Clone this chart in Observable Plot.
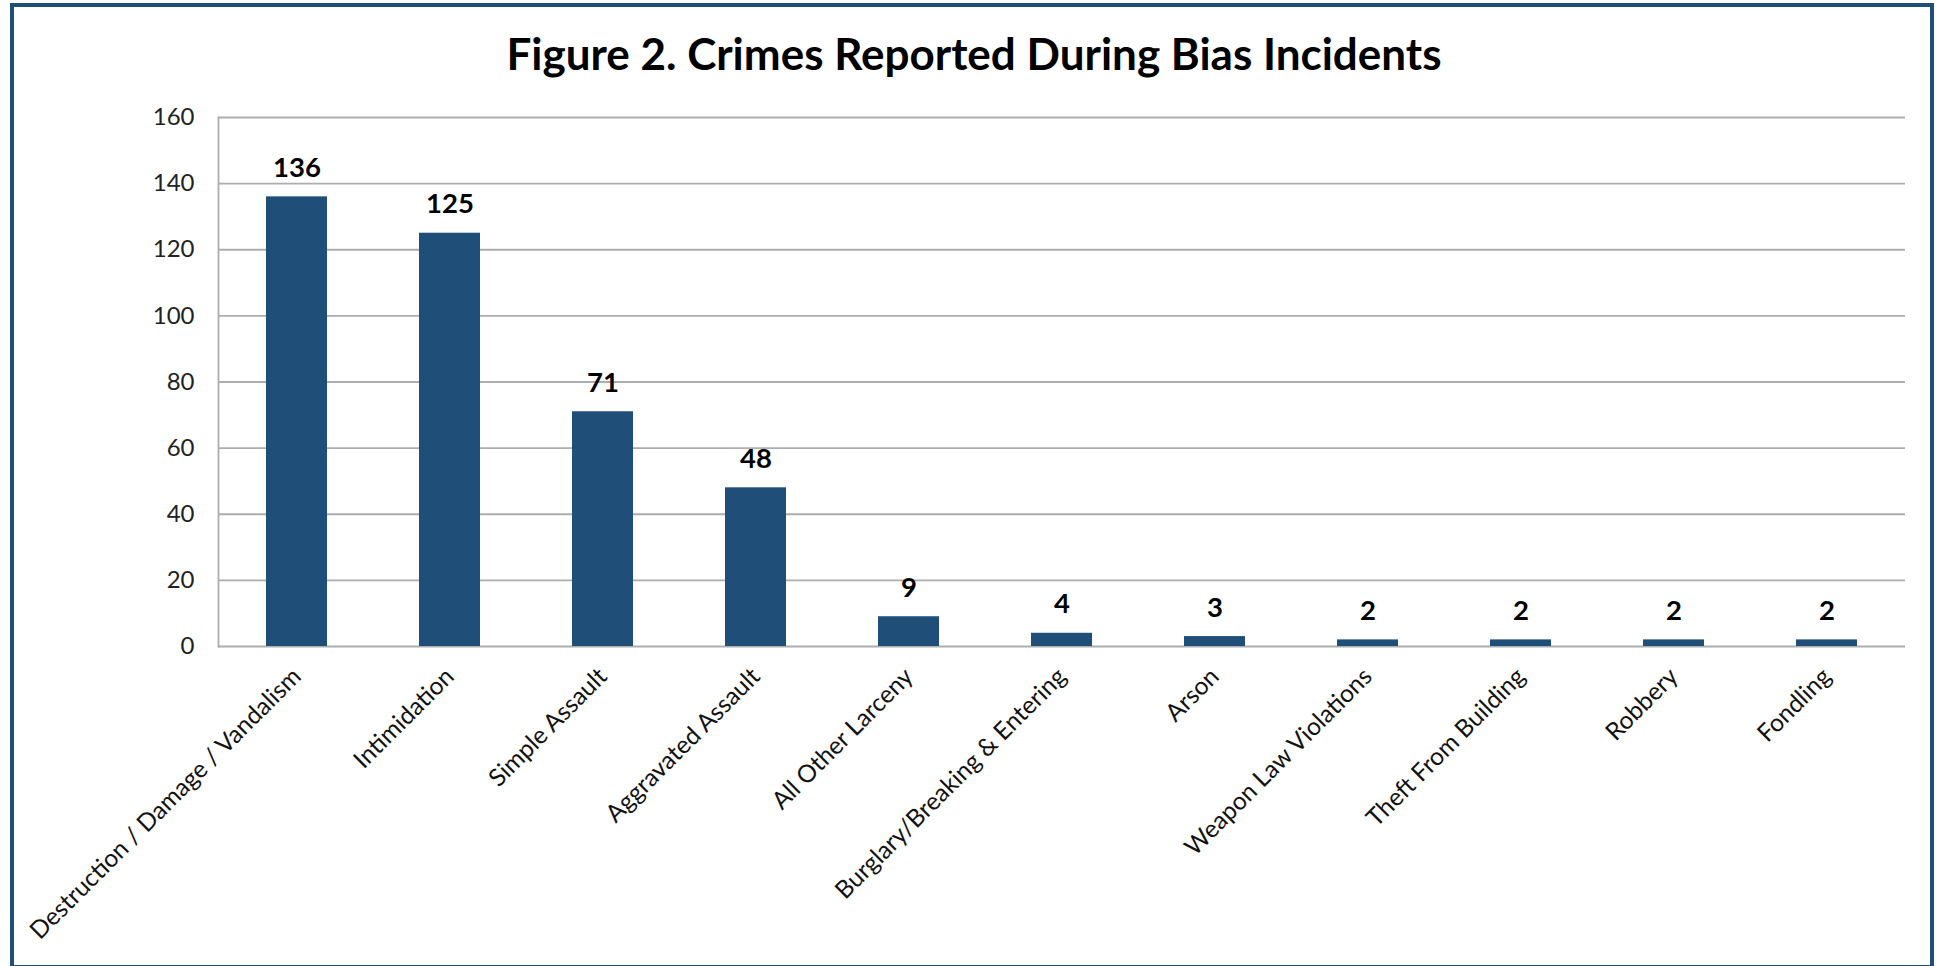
<!DOCTYPE html>
<html>
<head>
<meta charset="utf-8">
<script src="https://cdn.jsdelivr.net/npm/d3@7"></script>
<script src="https://cdn.jsdelivr.net/npm/@observablehq/plot@0.6"></script>
<style>
  html, body { margin: 0; padding: 0; background: #fff; }
  body { width: 1942px; height: 966px; position: relative; overflow: hidden; font-family: Lato, "Open Sans", sans-serif; }
  #border { position: absolute; left: 10px; top: 3px; width: 1924px; height: 966px; box-sizing: border-box; border: 4px solid #1F4E79; }
  #title { position: absolute; left: 0; top: 31px; width: 1942px; text-align: center; font-size: 44px; line-height: 1; font-weight: bold; color: #000; padding-left: 3px; }
  #chart { position: absolute; left: 0; top: 100px; }
</style>
</head>
<body>
<div id="border"></div>
<div id="title">Figure 2. Crimes Reported During Bias Incidents</div>
<div id="chart"></div>
<script>
const categories = [
  "Destruction / Damage / Vandalism",
  "Intimidation",
  "Simple Assault",
  "Aggravated Assault",
  "All Other Larceny",
  "Burglary/Breaking & Entering",
  "Arson",
  "Weapon Law Violations",
  "Theft From Building",
  "Robbery",
  "Fondling"
];
const counts = [136, 125, 71, 48, 9, 4, 3, 2, 2, 2, 2];
const yTicks = [0, 20, 40, 60, 80, 100, 120, 140, 160];

const data = categories.map((c, i) => ({crime: c, count: counts[i]}));

const chart = Plot.plot({
  width: 1942,
  height: 860,
  marginLeft: 218,
  marginRight: 37,
  marginTop: 17,
  marginBottom: 314,
  style: {fontFamily: "Lato, 'Open Sans', sans-serif", fontSize: "24px", background: "transparent", overflow: "visible"},
  x: {domain: categories, paddingInner: 0.6, paddingOuter: 0.3, label: null},
  y: {domain: [0, 160], label: null},
  marks: [
    Plot.gridY(yTicks, {stroke: "#adadad", strokeOpacity: 1, strokeWidth: 1.8}),
    Plot.frame({anchor: "left", stroke: "#adadad", strokeWidth: 1.8}),
    Plot.barY(data, {x: "crime", y: "count", fill: "#1F4E79"}),
    Plot.text(data, {x: "crime", y: "count", text: d => String(d.count), dy: -20, lineAnchor: "bottom", fontWeight: "bold", fontSize: 27.5, fill: "#000"}),
    Plot.axisY(yTicks, {tickSize: 0, tickPadding: 24, fontSize: 24, fill: "#222", label: null}),
    Plot.axisX({tickRotate: -45, tickSize: 0, tickPadding: 26, fontSize: 24.5, fill: "#111", label: null})
  ]
});
document.getElementById("chart").appendChild(chart);
</script>
</body>
</html>
